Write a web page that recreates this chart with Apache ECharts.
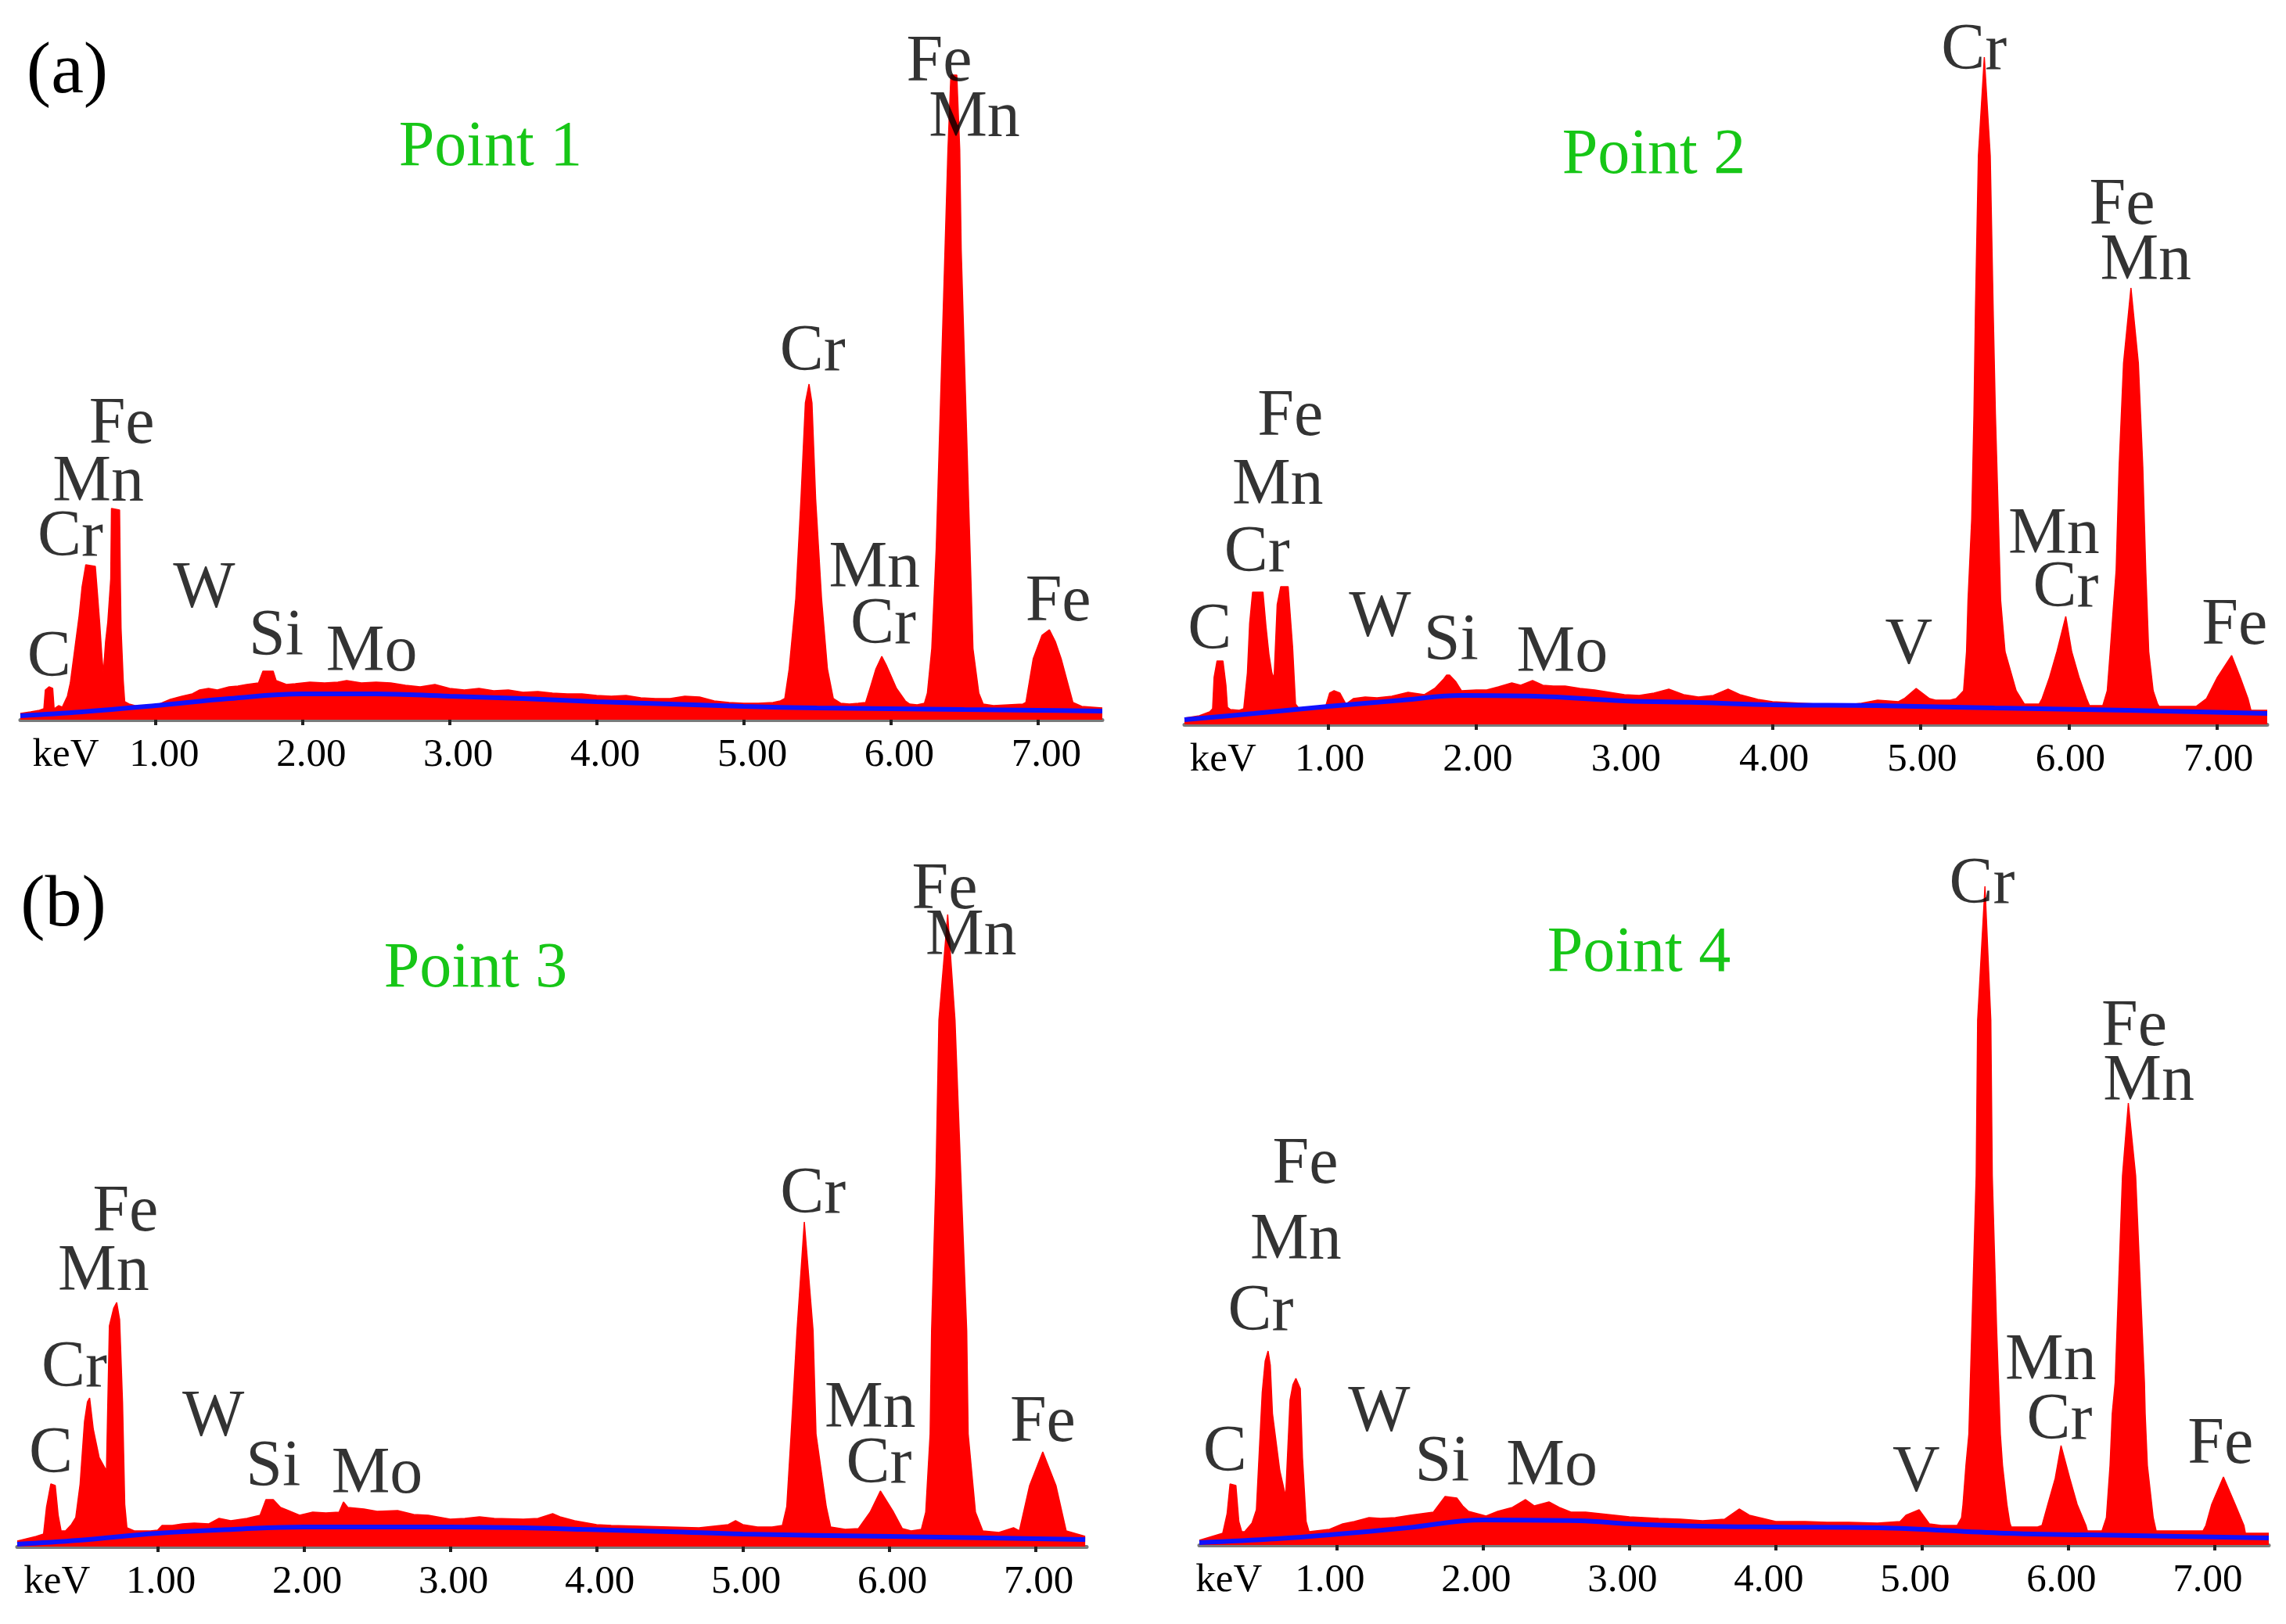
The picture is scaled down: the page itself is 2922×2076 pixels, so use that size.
<!DOCTYPE html>
<html>
<head>
<meta charset="utf-8">
<script src="https://cdn.jsdelivr.net/npm/echarts@6/dist/echarts.min.js"></script>
<style>
html,body{margin:0;padding:0;background:#fff;}
#chart{width:2922px;height:2076px;}
</style>
</head>
<body>
<div id="chart"></div>
<script>
// ---------- DATA (energy in keV, intensity in arbitrary counts) ----------
const tickValues = [1, 2, 3, 4, 5, 6, 7];

// Point 1
const p1Spectrum = [[0.08,8],[0.15,10],[0.21,12],[0.24,14],[0.25,38],[0.275,42],[0.30,40],[0.31,14],[0.34,18],[0.365,16],[0.40,30],[0.42,47],[0.45,90],[0.48,133],[0.50,170],[0.525,198],[0.59,196],[0.605,160],[0.62,123],[0.635,80],[0.645,60],[0.66,100],[0.675,125],[0.695,180],[0.70,270],[0.755,268],[0.76,180],[0.765,117],[0.78,50],[0.79,23],[0.82,20],[0.86,18],[0.95,17],[1.0,18],[1.05,22],[1.10,26],[1.18,30],[1.25,33],[1.30,38],[1.36,40],[1.42,38],[1.50,42],[1.56,43],[1.62,45],[1.70,47],[1.73,62],[1.80,62],[1.82,50],[1.89,45],[1.95,46],[2.05,48],[2.15,47],[2.24,48],[2.30,50],[2.40,47],[2.50,48],[2.60,47],[2.70,44],[2.80,42],[2.90,45],[3.00,40],[3.10,38],[3.20,40],[3.30,37],[3.40,38],[3.50,35],[3.60,36],[3.70,34],[3.80,33],[3.90,33],[4.00,31],[4.10,30],[4.20,31],[4.30,28],[4.40,27],[4.50,27],[4.60,30],[4.70,29],[4.80,24],[4.90,22],[5.00,21],[5.10,21],[5.20,22],[5.25,24],[5.28,27],[5.31,65],[5.355,155],[5.39,282],[5.42,405],[5.445,429],[5.465,405],[5.49,282],[5.53,155],[5.57,65],[5.61,27],[5.66,21],[5.72,20],[5.78,21],[5.83,22],[5.86,40],[5.90,65],[5.94,81],[5.97,70],[6.04,40],[6.10,24],[6.13,20],[6.18,19],[6.23,21],[6.25,34],[6.28,91],[6.31,218],[6.34,410],[6.37,601],[6.39,729],[6.41,824],[6.45,824],[6.47,729],[6.48,601],[6.51,410],[6.54,218],[6.56,91],[6.60,34],[6.63,20],[6.70,18],[6.80,19],[6.90,20],[6.92,22],[6.97,78],[7.03,108],[7.08,115],[7.12,100],[7.16,78],[7.24,22],[7.30,17],[7.44,15]];
const p1Background = [[0.08,5],[0.5,10],[1.0,18],[1.5,27],[2.0,33],[2.5,33],[3.0,30],[3.5,27],[4.0,23],[4.5,20],[5.0,17],[5.5,15],[6.0,14],[6.5,13],[7.0,12],[7.44,11]];
const p1Peaks = [[0.275,78,'C'],[0.42,232,'Cr'],[0.61,302,'Mn'],[0.77,376,'Fe'],[1.33,166,'W'],[1.82,105,'Si'],[2.47,85,'Mo'],[5.47,469,'Cr'],[5.89,192,'Mn'],[5.95,120,'Cr'],[6.33,839,'Fe'],[6.57,768,'Mn'],[7.14,149,'Fe']];

// Point 2
const p2Spectrum = [[0.03,8],[0.13,11],[0.20,16],[0.22,20],[0.23,60],[0.25,81],[0.29,81],[0.31,50],[0.32,22],[0.34,19],[0.40,18],[0.43,20],[0.455,66],[0.47,129],[0.49,169],[0.56,169],[0.58,126],[0.60,90],[0.62,66],[0.635,59],[0.656,153],[0.68,176],[0.73,176],[0.76,99],[0.78,26],[0.80,21],[0.90,20],[0.98,21],[1.01,40],[1.04,43],[1.08,40],[1.12,26],[1.17,33],[1.25,35],[1.33,34],[1.43,36],[1.54,41],[1.65,38],[1.72,46],[1.78,58],[1.80,63],[1.82,63],[1.86,55],[1.90,43],[2.00,44],[2.07,44],[2.15,48],[2.24,53],[2.30,50],[2.38,56],[2.45,50],[2.52,49],[2.60,49],[2.70,46],[2.80,44],[2.90,41],[3.00,38],[3.10,37],[3.20,40],[3.30,45],[3.40,38],[3.50,35],[3.60,37],[3.70,45],[3.78,38],[3.90,32],[4.00,29],[4.10,28],[4.20,27],[4.30,26],[4.40,26],[4.50,25],[4.60,27],[4.71,31],[4.85,29],[4.89,33],[4.97,46],[5.06,33],[5.10,31],[5.20,31],[5.24,33],[5.27,39],[5.29,43],[5.31,93],[5.32,159],[5.345,263],[5.36,396],[5.37,528],[5.39,727],[5.43,853],[5.47,727],[5.49,528],[5.505,396],[5.525,263],[5.54,159],[5.57,93],[5.645,43],[5.70,26],[5.80,26],[5.82,33],[5.87,60],[5.92,93],[5.98,138],[6.02,93],[6.07,60],[6.12,33],[6.14,24],[6.23,24],[6.26,43],[6.28,93],[6.30,146],[6.32,197],[6.34,329],[6.37,462],[6.42,558],[6.47,462],[6.50,329],[6.52,197],[6.54,93],[6.57,43],[6.60,26],[6.61,23],[6.86,23],[6.93,33],[7.00,59],[7.10,88],[7.16,59],[7.21,33],[7.23,18],[7.34,18]];
const p2Background = [[0.03,6],[0.5,14],[1.0,23],[1.5,31],[1.9,37],[2.4,36],[3.0,30],[3.5,28],[4.0,25],[4.7,24],[5.5,21],[6.4,18],[7.34,14]];
const p2Peaks = [[0.20,119,'C'],[0.52,218,'Cr'],[0.66,304,'Mn'],[0.745,392,'Fe'],[1.35,135,'W'],[1.83,105,'Si'],[2.58,90,'Mo'],[4.92,100,'V'],[5.36,860,'Cr'],[5.90,241,'Mn'],[5.98,173,'Cr'],[6.36,662,'Fe'],[6.52,591,'Mn'],[7.12,125,'Fe']];

// Point 3
const p3Spectrum = [[0.04,7],[0.17,13],[0.22,16],[0.24,50],[0.27,80],[0.30,78],[0.32,40],[0.34,20],[0.37,20],[0.41,28],[0.44,37],[0.47,80],[0.50,160],[0.52,185],[0.535,190],[0.56,150],[0.60,114],[0.65,97],[0.67,282],[0.70,305],[0.72,312],[0.74,290],[0.76,184],[0.775,54],[0.79,24],[0.84,20],[0.95,20],[1.0,21],[1.03,27],[1.10,27],[1.17,29],[1.25,30],[1.35,29],[1.42,36],[1.50,33],[1.61,36],[1.70,40],[1.74,60],[1.79,60],[1.84,50],[1.88,47],[1.97,40],[2.06,44],[2.15,43],[2.24,44],[2.27,57],[2.30,50],[2.41,48],[2.50,45],[2.64,46],[2.75,41],[2.85,40],[3.0,35],[3.1,36],[3.2,38],[3.3,36],[3.5,35],[3.6,36],[3.7,42],[3.75,38],[3.85,33],[4.0,28],[4.1,27],[4.3,26],[4.5,25],[4.7,24],[4.9,28],[4.95,33],[5.0,28],[5.1,25],[5.2,25],[5.27,27],[5.30,51],[5.33,144],[5.37,276],[5.42,415],[5.48,276],[5.50,144],[5.57,51],[5.60,25],[5.70,22],[5.79,23],[5.87,44],[5.94,71],[6.03,44],[6.09,23],[6.15,20],[6.22,22],[6.25,44],[6.28,144],[6.29,276],[6.32,474],[6.34,673],[6.40,808],[6.45,673],[6.49,474],[6.53,276],[6.54,144],[6.59,44],[6.64,20],[6.75,18],[6.85,24],[6.89,20],[6.96,78],[7.05,121],[7.14,78],[7.21,20],[7.34,13]];
const p3Background = [[0.04,3],[0.46,8],[1.0,17],[1.52,22],[2.0,25],[2.6,25],[3.0,25],[3.5,24],[3.9,22],[4.5,19],[5.0,16],[6.0,13],[7.34,9]];
const p3Peaks = [[0.27,117,'C'],[0.43,227,'Cr'],[0.63,350,'Mn'],[0.78,426,'Fe'],[1.38,164,'W'],[1.79,100,'Si'],[2.50,91,'Mo'],[5.48,449,'Cr'],[5.87,175,'Mn'],[5.93,104,'Cr'],[6.38,838,'Fe'],[6.56,779,'Mn'],[7.05,157,'Fe']];

// Point 4
const p4Spectrum = [[0.06,6],[0.22,15],[0.25,40],[0.27,78],[0.31,76],[0.33,30],[0.35,17],[0.37,17],[0.42,28],[0.45,45],[0.47,120],[0.49,195],[0.51,235],[0.53,248],[0.545,230],[0.56,168],[0.61,95],[0.65,62],[0.68,185],[0.70,205],[0.72,213],[0.75,200],[0.765,112],[0.79,30],[0.81,17],[0.95,20],[1.04,27],[1.12,30],[1.22,35],[1.30,34],[1.40,35],[1.50,38],[1.58,40],[1.66,42],[1.74,62],[1.82,60],[1.86,50],[1.90,43],[2.02,37],[2.10,43],[2.20,48],[2.29,58],[2.35,50],[2.45,55],[2.52,48],[2.60,42],[2.70,42],[2.80,40],[2.90,38],[3.0,36],[3.1,35],[3.2,34],[3.35,33],[3.5,31],[3.65,33],[3.75,46],[3.82,38],[4.0,30],[4.2,30],[4.35,29],[4.5,29],[4.695,28],[4.85,30],[4.89,38],[4.98,45],[5.05,27],[5.13,25],[5.24,25],[5.27,35],[5.28,52],[5.30,102],[5.32,142],[5.34,274],[5.37,472],[5.38,671],[5.43,842],[5.47,671],[5.48,472],[5.51,274],[5.535,142],[5.55,102],[5.58,52],[5.60,28],[5.61,23],[5.79,23],[5.82,25],[5.86,52],[5.91,85],[5.95,127],[6.01,85],[6.06,52],[6.12,25],[6.13,18],[6.23,18],[6.26,35],[6.285,102],[6.30,168],[6.32,208],[6.345,340],[6.37,472],[6.41,565],[6.46,472],[6.49,340],[6.52,208],[6.525,168],[6.54,102],[6.58,35],[6.60,18],[6.92,18],[6.94,25],[6.98,52],[7.06,87],[7.14,52],[7.20,25],[7.21,15],[7.37,15]];
const p4Background = [[0.06,3],[0.59,8],[0.95,13],[1.48,22],[2.0,32],[2.66,31],[3.0,27],[3.5,24],[4.0,23],[4.7,22],[5.57,15],[6.45,12],[7.37,9]];
const p4Peaks = [[0.235,117,'C'],[0.48,297,'Cr'],[0.72,388,'Mn'],[0.785,485,'Fe'],[1.29,168,'W'],[1.72,104,'Si'],[2.47,99,'Mo'],[4.96,91,'V'],[5.41,843,'Cr'],[5.88,234,'Mn'],[5.94,158,'Cr'],[6.45,661,'Fe'],[6.55,591,'Mn'],[7.04,127,'Fe']];

// ---------- LAYOUT / STYLE ----------
const SERIF = '"Liberation Serif","Times New Roman",serif';
const panels = [
  {spec:p1Spectrum, bg:p1Background, peaks:p1Peaks, grid:{left:26, right:1513, top:20, bottom:1156}, xmin:0.08, xmax:7.44, labelPad:[0,0,0,22]},
  {spec:p2Spectrum, bg:p2Background, peaks:p2Peaks, grid:{left:1514, right:24, top:26, bottom:1150}, xmin:0.03, xmax:7.34, labelPad:[0,0,0,4]},
  {spec:p3Spectrum, bg:p3Background, peaks:p3Peaks, grid:{left:22, right:1533, top:1077, bottom:99}, xmin:0.04, xmax:7.35, labelPad:[0,0,0,8]},
  {spec:p4Spectrum, bg:p4Background, peaks:p4Peaks, grid:{left:1533, right:22, top:1075, bottom:101}, xmin:0.06, xmax:7.37, labelPad:[0,18,0,0]}
];

const grids = [], xAxes = [], yAxes = [], series = [];
panels.forEach((p, i) => {
  grids.push(Object.assign({containLabel:false}, p.grid));
  const kevPos = p.xmin + 0.25;
  xAxes.push({
    type:'value', gridIndex:i, min:p.xmin, max:p.xmax,
    splitLine:{show:false},
    axisLine:{show:true, lineStyle:{color:'#7a7a7a', width:5}},
    axisTick:{show:true, customValues:tickValues, length:7, lineStyle:{color:'#222', width:4}},
    axisLabel:{
      show:true, customValues:[kevPos].concat(tickValues), margin:20,
      fontFamily:SERIF, fontSize:51, color:'#000',
      formatter:function(v){ return Math.abs(v - kevPos) < 1e-6 ? 'keV' : v.toFixed(2); },
      rich:{}
    }
  });
  yAxes.push({type:'value', gridIndex:i, min:0, max:900, show:false, splitLine:{show:false}});
  series.push({
    type:'line', xAxisIndex:i, yAxisIndex:i, data:p.spec, symbol:'none', silent:true,
    lineStyle:{color:'#ff0000', width:1.5}, areaStyle:{color:'#ff0000', opacity:1}, z:2
  });
  series.push({
    type:'line', xAxisIndex:i, yAxisIndex:i, data:p.bg, symbol:'none', silent:true, smooth:0.4,
    lineStyle:{color:'#1010ff', width:6}, z:3
  });
  series.push({
    type:'scatter', xAxisIndex:i, yAxisIndex:i, data:p.peaks, symbolSize:0, silent:true, z:5,
    label:{show:true, position:'inside', formatter:function(d){return d.data[2];},
      fontFamily:SERIF, fontSize:84, color:'#000', textBorderWidth:0}
  });
});
// shift tick labels slightly to match the reference placement
xAxes.forEach((ax, i) => { ax.axisLabel.padding = panels[i].labelPad; });

const titleTexts = [
  {text:'(a)', x:86, y:93, color:'#000', size:94},
  {text:'(b)', x:81, y:1158, color:'#000', size:94},
  {text:'Point 1', x:627, y:189, color:'#17c617', size:82},
  {text:'Point 2', x:2114, y:199, color:'#17c617', size:82},
  {text:'Point 3', x:608, y:1239, color:'#17c617', size:82},
  {text:'Point 4', x:2095, y:1219, color:'#17c617', size:82}
];

const chart = echarts.init(document.getElementById('chart'), null, {renderer:'canvas'});
chart.setOption({
  backgroundColor:'#ffffff',
  animation:false,
  grid:grids, xAxis:xAxes, yAxis:yAxes, series:series,
  graphic: titleTexts.map(t => ({
    type:'text', x:t.x, y:t.y, z:10,
    style:{text:t.text, fill:t.color, font:t.size + 'px ' + SERIF, textAlign:'center', textVerticalAlign:'middle'}
  }))
});
</script>
</body>
</html>
